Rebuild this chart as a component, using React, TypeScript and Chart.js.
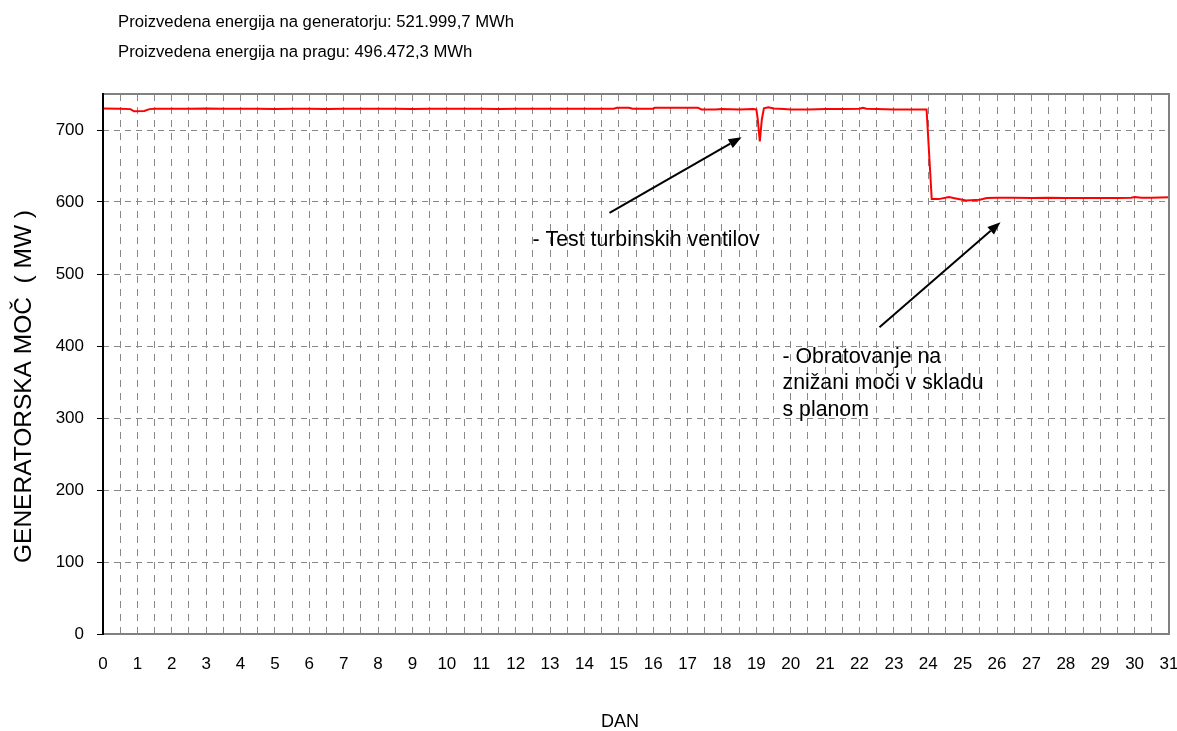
import React, { useEffect, useRef } from "react";
import { Chart, registerables } from "chart.js";

Chart.register(...registerables);

// ---- Data ----
const DAYS = [
  0, 0.5, 0.8, 0.9, 1.2, 1.35, 1.5, 2, 2.5, 3, 3.5, 4, 4.5, 5, 5.5, 6, 6.5, 7, 7.5, 8, 8.5, 9, 9.5, 10,
  10.5, 11, 11.5, 12, 12.5, 13, 13.5, 14, 14.5, 14.85, 14.95, 15.3, 15.4, 15.5, 16, 16.05, 16.5, 17,
  17.3, 17.4, 17.8, 18, 18.5, 18.9, 19.0, 19.04, 19.1, 19.16, 19.22, 19.35, 19.5, 19.8, 20, 20.5, 21,
  21.5, 22, 22.1, 22.2, 22.5, 23, 23.5, 23.95, 24.1, 24.3, 24.6, 24.8, 25.1, 25.5, 25.7, 26, 26.5, 27,
  27.5, 28, 28.5, 29, 29.5, 29.9, 30, 30.2, 30.5, 31,
];
const MW = [
  730, 729.5, 729, 726, 726.5, 729, 729.5, 729.5, 729.5, 730, 729.5, 729.5, 729.5, 729, 729.5, 729.5,
  729, 729.5, 729.5, 729.5, 729.5, 729, 729.5, 729.5, 729.5, 729.5, 729, 729.5, 729.5, 729.5, 729.5,
  729.5, 729.5, 729.5, 731, 731, 729.5, 729.5, 729.5, 731, 731, 731, 731, 728.5, 728.5, 729, 728.5,
  729, 728.5, 715, 684, 715, 730, 731.5, 730, 729, 728.5, 728.5, 729, 729, 729.5, 731, 729.5, 729,
  728.5, 728.5, 728.5, 604, 604, 607, 605, 602, 603, 605.5, 606, 606, 605.5, 606, 605.5, 605.5, 605.5,
  605.5, 606, 607, 606, 606, 606.5,
];
const X_TICKS = [
  0, 0.5, 1, 1.5, 2, 2.5, 3, 3.5, 4, 4.5, 5, 5.5, 6, 6.5, 7, 7.5, 8, 8.5, 9, 9.5, 10, 10.5, 11, 11.5,
  12, 12.5, 13, 13.5, 14, 14.5, 15, 15.5, 16, 16.5, 17, 17.5, 18, 18.5, 19, 19.5, 20, 20.5, 21, 21.5,
  22, 22.5, 23, 23.5, 24, 24.5, 25, 25.5, 26, 26.5, 27, 27.5, 28, 28.5, 29, 29.5, 30, 30.5, 31,
];
const Y_TICKS = [0, 100, 200, 300, 400, 500, 600, 700];

const HEADER_LINES = [
  "Proizvedena energija na generatorju: 521.999,7 MWh",
  "Proizvedena energija na pragu: 496.472,3 MWh",
];
const Y_TITLE = "GENERATORSKA MOČ  ( MW )";
const X_TITLE = "DAN";

// annotations in data coordinates (day, MW)
const NOTE1_LINES = ["- Test turbinskih ventilov"];
const NOTE1_POS = [12.49, 547];
const ARROW1 = [14.73, 585, 18.57, 690];
const NOTE2_LINES = ["- Obratovanje na", "znižani moči v skladu", "s planom"];
const NOTE2_POS = [19.76, 384.7];
const ARROW2 = [22.58, 426, 26.1, 572];

const FONT = "Liberation Sans, Arial, Helvetica, sans-serif";

const overlayPlugin = {
  id: "overlay",
  beforeDraw(chart: any) {
    const ctx = chart.ctx;
    ctx.save();
    ctx.fillStyle = "#fff";
    ctx.fillRect(0, 0, chart.width, chart.height);
    ctx.restore();
  },
  afterDraw(chart: any) {
    const ctx = chart.ctx;
    const { left, right, top, bottom } = chart.chartArea;
    const xs = chart.scales.x;
    const ys = chart.scales.y;
    ctx.save();
    // frame
    ctx.strokeStyle = "#808080";
    ctx.lineWidth = 2;
    ctx.beginPath();
    ctx.moveTo(left, top);
    ctx.lineTo(right, top);
    ctx.lineTo(right, bottom);
    ctx.lineTo(left, bottom);
    ctx.stroke();
    // value axis
    ctx.strokeStyle = "#000";
    ctx.beginPath();
    ctx.moveTo(left, top - 1);
    ctx.lineTo(left, bottom + 1);
    ctx.stroke();

    ctx.fillStyle = "#000";
    ctx.font = `16.7px ${FONT}`;
    ctx.textBaseline = "middle";
    ctx.textAlign = "left";
    HEADER_LINES.forEach((t, i) => ctx.fillText(t, 118, 22 + i * 30));

    ctx.font = `18px ${FONT}`;
    ctx.textAlign = "center";
    ctx.fillText(X_TITLE, 620, 722);

    ctx.save();
    ctx.font = `24.5px ${FONT}`;
    ctx.translate(31, 563);
    ctx.rotate(-Math.PI / 2);
    ctx.textAlign = "left";
    ctx.textBaseline = "alphabetic";
    ctx.fillText(Y_TITLE, 0, 0);
    ctx.restore();

    // notes
    ctx.font = `21.3px ${FONT}`;
    ctx.textAlign = "left";
    ctx.textBaseline = "middle";
    const n1x = xs.getPixelForValue(NOTE1_POS[0]);
    const n1y = ys.getPixelForValue(NOTE1_POS[1]);
    NOTE1_LINES.forEach((t, i) => ctx.fillText(t, n1x, n1y + i * 26.5));
    const n2x = xs.getPixelForValue(NOTE2_POS[0]);
    const n2y = ys.getPixelForValue(NOTE2_POS[1]);
    NOTE2_LINES.forEach((t, i) => ctx.fillText(t, n2x, n2y + i * 26.5));

    const arrow = (a: number[]) => {
      const x1 = xs.getPixelForValue(a[0]);
      const y1 = ys.getPixelForValue(a[1]);
      const x2 = xs.getPixelForValue(a[2]);
      const y2 = ys.getPixelForValue(a[3]);
      const ang = Math.atan2(y2 - y1, x2 - x1);
      const hl = 13;
      const hw = 5;
      const bx = x2 - hl * Math.cos(ang);
      const by = y2 - hl * Math.sin(ang);
      ctx.strokeStyle = "#000";
      ctx.lineWidth = 2;
      ctx.beginPath();
      ctx.moveTo(x1, y1);
      ctx.lineTo(bx, by);
      ctx.stroke();
      ctx.beginPath();
      ctx.moveTo(x2, y2);
      ctx.lineTo(bx + hw * Math.sin(ang), by - hw * Math.cos(ang));
      ctx.lineTo(bx - hw * Math.sin(ang), by + hw * Math.cos(ang));
      ctx.closePath();
      ctx.fill();
    };
    arrow(ARROW1);
    arrow(ARROW2);
    ctx.restore();
  },
};

export default function App() {
  const ref = useRef<HTMLCanvasElement | null>(null);
  useEffect(() => {
    if (!ref.current) return;
    const data = DAYS.map((d, i) => ({ x: d, y: MW[i] }));
    const chart = new Chart(ref.current, {
      type: "line",
      data: {
        datasets: [
          {
            data,
            borderColor: "#ff0000",
            borderWidth: 2,
            pointRadius: 0,
            tension: 0,
            fill: false,
          },
        ],
      },
      options: {
        animation: false,
        responsive: false,
        events: [],
        layout: { padding: { top: 94, right: 8, left: 0, bottom: 0 } },
        plugins: { legend: { display: false }, tooltip: { enabled: false }, title: { display: false } },
        scales: {
          x: {
            type: "linear",
            min: 0,
            max: 31,
            afterBuildTicks: (s: any) => {
              s.ticks = X_TICKS.map((v) => ({ value: v }));
            },
            afterFit: (s: any) => {
              s.height = 97;
              s.paddingLeft = 0;
              s.paddingRight = 0;
            },
            ticks: {
              autoSkip: false,
              maxRotation: 0,
              minRotation: 0,
              padding: 20,
              color: "#000",
              font: { size: 17, family: FONT },
              callback: (v: any) => (Number.isInteger(v) ? String(v) : ""),
            },
            grid: {
              color: "#888888",
              lineWidth: 1,
              drawTicks: false,
            },
            border: { display: false, dash: [7, 6] },
          },
          y: {
            min: 0,
            max: 750,
            afterBuildTicks: (s: any) => {
              s.ticks = Y_TICKS.map((v) => ({ value: v }));
            },
            afterFit: (s: any) => {
              s.width = 103;
              s.paddingTop = 0;
              s.paddingBottom = 0;
            },
            ticks: {
              padding: 13,
              color: "#000",
              font: { size: 17, family: FONT },
            },
            grid: {
              color: "#888888",
              lineWidth: 1,
              tickLength: 6,
              tickColor: "#000",
              tickWidth: 1,
            },
            border: { display: false, dash: [6, 5] },
          },
        },
      },
      plugins: [overlayPlugin],
    });
    return () => chart.destroy();
  }, []);
  return (
    <div style={{ position: "fixed", left: 0, top: 0, width: 1177, height: 731, background: "#fff" }}>
      <canvas ref={ref} width={1177} height={731} style={{ width: 1177, height: 731 }} />
    </div>
  );
}
